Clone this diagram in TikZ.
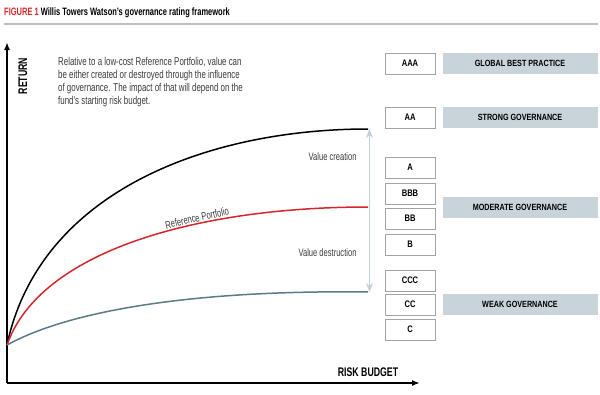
\documentclass[tikz,border=0pt]{standalone}
\usepackage{fontspec}
\setmainfont{Liberation Sans}
\newfontfamily\condfont[FakeStretch=0.7]{Liberation Sans}
\newfontfamily\headfont[FakeStretch=0.8]{Liberation Sans}
\usetikzlibrary{arrows.meta,positioning}

\begin{document}
\begin{tikzpicture}[x=1pt,y=-1pt,
    ratebox/.style={draw=boxBorder, fill=white, line width=0.6pt, minimum width=50pt,
        minimum height=21pt, inner sep=0pt, font=\headfont\bfseries\fontsize{9.5}{10}\selectfont},
    bandbox/.style={fill=bandFill, minimum width=155pt, minimum height=21pt, inner sep=0pt,
        font=\headfont\bfseries\fontsize{9}{10}\selectfont},
    curve/.style={line width=1.5pt},
    axislabel/.style={font=\condfont\bfseries\fontsize{12.5}{13}\selectfont}]
    % Define picture size
    \def\picW{600}
    \def\picH{394}

    \definecolor{titleRed}{HTML}{D7262B}
    \definecolor{ruleGrey}{HTML}{BEBEBE}
    \definecolor{boxBorder}{HTML}{A3A3A3}
    \definecolor{bandFill}{HTML}{C9D3DA}
    \definecolor{lowCurve}{HTML}{5C7A88}
    \definecolor{spanArrow}{HTML}{C3D0D8}
    \definecolor{noteText}{HTML}{3A3A3A}

    \useasboundingbox (0,0) rectangle (\picW,\picH);

    % Title and rule
    \node[anchor=west, inner sep=0pt, font=\condfont\bfseries\fontsize{10.7}{12}\selectfont] (title) at (4,13)
        {\textcolor{titleRed}{FIGURE 1} Willis Towers Watson’s governance rating framework};
    \draw[ruleGrey, line width=2.5pt] (4,24) -- (598,24);

    % Draw axes
    \coordinate (origin) at (7,383);
    \coordinate (ytop) at (7,42);
    \coordinate (xend) at (420,383);
    \draw[line width=1.8pt, -{Latex[length=8pt,width=6pt]}] (origin) -- (ytop);
    \draw[line width=1.8pt, -{Latex[length=8pt,width=6pt]}] (origin) -- (xend);
    \node[axislabel, rotate=90] (ret) at (23,76) {RETURN};
    \node[axislabel] (risk) at (368,372) {RISK BUDGET};

    % Explanatory note
    \node[anchor=north west, inner sep=0pt, align=left, text=noteText,
        font=\condfont\fontsize{11.3}{13}\selectfont] (note) at (58,57)
        {Relative to a low-cost Reference Portfolio, value can\\
         be either created or destroyed through the influence\\
         of governance. The impact of that will depend on the\\
         fund’s starting risk budget.};

    % Define coordinates for the curves
    \coordinate (start) at (7,345);
    \coordinate (hi) at (368,129);
    \coordinate (mid) at (368,207);
    \coordinate (lo) at (368,292);

    % Draw curves
    \draw[curve, black] (start) .. controls (40,190) and (210,129) .. (hi);
    \draw[curve, titleRed] (start) .. controls (40,250) and (200,207) .. (mid);
    \draw[curve, lowCurve] (start) .. controls (80,305) and (220,290) .. (lo);

    % Value span arrow
    \draw[spanArrow, line width=1.5pt, {Stealth[length=9pt,width=7pt]}-{Stealth[length=9pt,width=7pt]}]
        ([xshift=1.5pt]hi) -- ([xshift=1.5pt]lo);

    % Labels
    \node[rotate=13, text=noteText, font=\condfont\fontsize{10.8}{12}\selectfont] (ref) at (197,218) {Reference Portfolio};
    \node[anchor=east, text=noteText, font=\condfont\fontsize{10.8}{12}\selectfont] (create) at (360,157) {Value creation};
    \node[anchor=east, text=noteText, font=\condfont\fontsize{10.8}{12}\selectfont] (destroy) at (360,253) {Value destruction};

    % Rating boxes
    \foreach \r/\y in {AAA/63.5, AA/117.5, A/167.5, BBB/193.5, BB/218.5, B/244.5, CCC/280.5, CC/304.5, C/329.5}
        \node[ratebox] (r\r) at (410,\y) {\r};

    % Governance bands
    \node[bandbox] (best) at (520,63.5) {GLOBAL BEST PRACTICE};
    \node[bandbox] (strong) at (520,117.5) {STRONG GOVERNANCE};
    \node[bandbox] (moderate) at (520,207) {MODERATE GOVERNANCE};
    \node[bandbox] (weak) at (520,304.5) {WEAK GOVERNANCE};

\end{tikzpicture}
\end{document}
